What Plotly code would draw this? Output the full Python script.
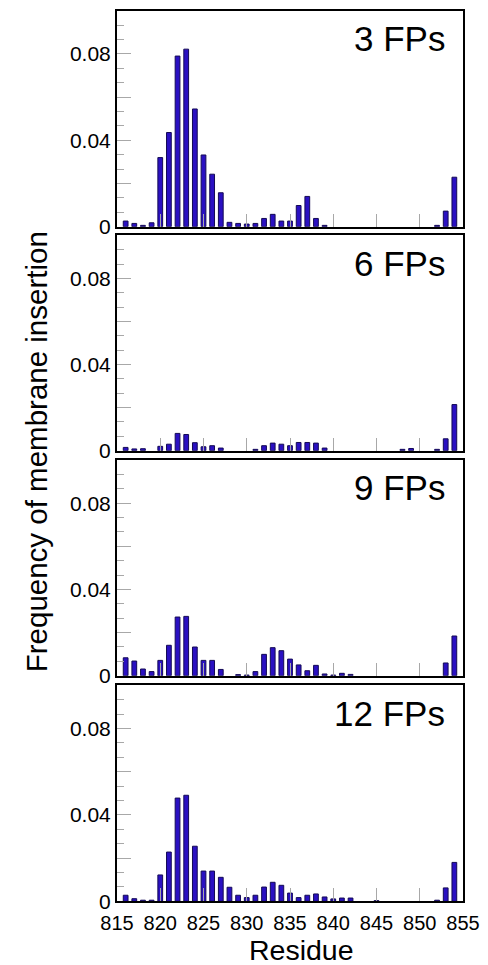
import plotly.graph_objects as go

residues = list(range(816, 855))

fp3 = [0.0026, 0.0015, 0.0006, 0.0018, 0.0320, 0.0436, 0.0790, 0.0822, 0.0545, 0.0332,
       0.0243, 0.0157, 0.0020, 0.0015, 0.0012, 0.0015, 0.0038, 0.0057, 0.0026, 0.0026,
       0.0098, 0.0140, 0.0038, 0.0006, 0.0, 0.0, 0.0, 0.0, 0.0, 0.0,
       0.0, 0.0, 0.0, 0.0, 0.0, 0.0, 0.0006, 0.0072, 0.0229]
fp6 = [0.0015, 0.0008, 0.0009, 0.0, 0.0020, 0.0030, 0.0080, 0.0075, 0.0037, 0.0018,
       0.0023, 0.0012, 0.0, 0.0, 0.0, 0.0006, 0.0023, 0.0035, 0.0030, 0.0023,
       0.0038, 0.0038, 0.0035, 0.0012, 0.0, 0.0, 0.0, 0.0, 0.0, 0.0,
       0.0, 0.0, 0.0006, 0.0010, 0.0, 0.0, 0.0006, 0.0055, 0.0214]
fp9 = [0.0083, 0.0068, 0.0031, 0.0019, 0.0071, 0.0141, 0.0272, 0.0275, 0.0133, 0.0071,
       0.0071, 0.0029, 0.0, 0.0005, 0.0003, 0.0019, 0.0099, 0.0130, 0.0116, 0.0077,
       0.0050, 0.0023, 0.0048, 0.0008, 0.0003, 0.0011, 0.0006, 0.0, 0.0, 0.0,
       0.0, 0.0, 0.0, 0.0, 0.0, 0.0, 0.0, 0.0059, 0.0184]
fp12 = [0.0028, 0.0012, 0.0005, 0.0005, 0.0122, 0.0228, 0.0478, 0.0491, 0.0255, 0.0140,
        0.0140, 0.0111, 0.0065, 0.0028, 0.0017, 0.0028, 0.0066, 0.0088, 0.0074, 0.0038,
        0.0017, 0.0028, 0.0034, 0.0020, 0.0011, 0.0015, 0.0015, 0.0, 0.0, 0.0003,
        0.0, 0.0, 0.0, 0.0, 0.0, 0.0, 0.0005, 0.0062, 0.0180]

series = [fp3, fp6, fp9, fp12]
panel_labels = ["3 FPs", "6 FPs", "9 FPs", "12 FPs"]

x_ticks = [815, 820, 825, 830, 835, 840, 845, 850, 855]
y_tickvals = [0, 0.02, 0.04, 0.06, 0.08, 0.1]
y_ticktext = ["0", "", "0.04", "", "0.08", ""]

domains = [[0.7571, 0.9992], [0.5060, 0.7474], [0.2537, 0.4955], [0.0008, 0.2429]]

FONT = "Liberation Sans, Arial, sans-serif"
TICKC = "#a8a8a8"

fig = go.Figure()
# page body has an 8px default margin; figure size/margins compensate for it
layout = dict(
    width=480, height=957,
    margin=dict(l=109, r=25, t=2, b=63),
    paper_bgcolor="white", plot_bgcolor="white",
    showlegend=False,
    font=dict(family=FONT, color="black"),
)

for i, (vals, lab) in enumerate(zip(series, panel_labels)):
    n = i + 1
    xa = "x" if n == 1 else f"x{n}"
    ya = "y" if n == 1 else f"y{n}"
    fig.add_trace(go.Bar(
        x=residues, y=[v if v > 0 else None for v in vals], xaxis=xa, yaxis=ya,
        marker=dict(color="#2a10c2", line=dict(color="#140a55", width=1)),
        width=0.55,
    ))
    xkey = "xaxis" if n == 1 else f"xaxis{n}"
    ykey = "yaxis" if n == 1 else f"yaxis{n}"
    layout[xkey] = dict(
        domain=[0, 1], anchor=ya, range=[815, 855],
        tickmode="array", tickvals=x_ticks,
        ticks="inside", ticklen=13, tickcolor=TICKC, tickwidth=1,
        showticklabels=(n == 4), ticklabelstandoff=3,
        tickfont=dict(size=20, family=FONT),
        showline=True, linecolor="black", linewidth=2, mirror=True,
        showgrid=False, zeroline=False,
    )
    if n != 4:
        layout[xkey]["matches"] = "x4"
    layout[ykey] = dict(
        domain=domains[i], anchor=xa, range=[0, 0.1],
        tickmode="array", tickvals=y_tickvals, ticktext=y_ticktext,
        ticks="inside", ticklen=14, tickcolor=TICKC, tickwidth=1,
        minor=dict(tick0=0, dtick=0.02 / 3, ticks="inside", ticklen=7, tickcolor=TICKC, tickwidth=1),
        tickfont=dict(size=21, family=FONT),
        showline=True, linecolor="black", linewidth=2, mirror=True,
        showgrid=False, zeroline=False,
    )

fig.update_layout(**layout)

for i, lab in enumerate(panel_labels):
    n = i + 1
    xa = "x" if n == 1 else f"x{n}"
    ya = "y" if n == 1 else f"y{n}"
    fig.add_annotation(
        text=lab, xref=f"{xa} domain", yref=f"{ya} domain",
        x=0.955, y=0.97, xanchor="right", yanchor="top",
        showarrow=False, font=dict(size=35, family=FONT, color="black"),
    )

fig.add_annotation(
    text="Frequency of membrane insertion", xref="paper", yref="paper",
    x=-0.232, y=0.505, xanchor="center", yanchor="middle", textangle=-90,
    showarrow=False, font=dict(size=29.5, family=FONT, color="black"),
)
fig.add_annotation(
    text="Residue", xref="paper", yref="paper",
    x=0.532, y=-0.054, xanchor="center", yanchor="middle",
    showarrow=False, font=dict(size=28.5, family=FONT, color="black"),
)

fig.write_html("out.html")
